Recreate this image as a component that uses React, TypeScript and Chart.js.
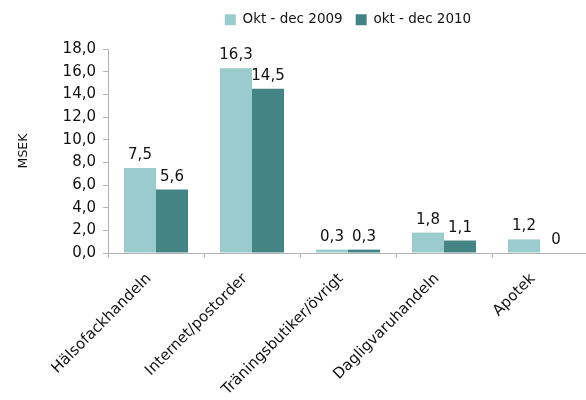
import React, { useEffect, useRef } from "react";
import { Chart, registerables } from "chart.js";

Chart.register(...registerables);

const categories = ["Hälsofackhandeln", "Internet/postorder", "Träningsbutiker/övrigt", "Dagligvaruhandeln", "Apotek"];
const series2009 = [7.5, 16.3, 0.3, 1.8, 1.2];
const series2010 = [5.6, 14.5, 0.3, 1.1, 0];
const seriesNames = ["Okt - dec 2009", "okt - dec 2010"];
const yTitle = "MSEK";

const FONT = "'DejaVu Sans', Verdana, sans-serif";

const fmt = (v: number) => (v === 0 ? "0" : v.toFixed(1).replace(".", ","));

const legendTweaks = {
  id: "legendTweaks",
  beforeLayout(chart: any) {
    const lg = chart.legend;
    if (lg && !lg._patched) {
      const orig = lg.fit.bind(lg);
      lg.fit = function () {
        orig();
        this.height = 49;
      };
      lg._patched = true;
    }
  },
  afterLayout(chart: any) {
    if (chart.legend) {
      chart.legend.left = chart.chartArea.left;
      chart.legend.right = chart.chartArea.right;
    }
  },
};

const valueLabels = {
  id: "valueLabels",
  afterDatasetsDraw(chart: any) {
    const ctx = chart.ctx;
    ctx.save();
    ctx.font = `15px ${FONT}`;
    ctx.fillStyle = "#111";
    ctx.textAlign = "center";
    ctx.textBaseline = "alphabetic";
    chart.data.datasets.forEach((ds: any, i: number) => {
      const meta = chart.getDatasetMeta(i);
      meta.data.forEach((el: any, j: number) => {
        ctx.fillText(fmt(ds.data[j]), el.x, el.y - 9);
      });
    });
    ctx.restore();
  },
};

export default function App() {
  const ref = useRef<HTMLCanvasElement>(null);
  useEffect(() => {
    if (!ref.current) return;
    const chart = new Chart(ref.current, {
      type: "bar",
      data: {
        labels: categories,
        datasets: [
          { label: seriesNames[0], data: series2009, backgroundColor: "#9acccd" },
          { label: seriesNames[1], data: series2010, backgroundColor: "#448485" },
        ],
      },
      options: {
        animation: false,
        responsive: true,
        maintainAspectRatio: false,
        layout: { padding: { top: 0, left: 0, right: 12, bottom: 0 } },
        datasets: { bar: { barPercentage: 1, categoryPercentage: 2 / 3 } },
        plugins: {
          legend: {
            position: "top",
            labels: {
              boxWidth: 11,
              boxHeight: 11,
              padding: 13,
              color: "#111",
              font: { family: FONT, size: 13.5 },
            },
          },
          tooltip: { enabled: false },
        },
        scales: {
          x: {
            grid: { display: true, drawOnChartArea: false, offset: true, tickLength: 5, color: "#b3b3b3" },
            border: { color: "#b3b3b3" },
            ticks: {
              color: "#111",
              font: { family: FONT, size: 15 },
              minRotation: 45,
              maxRotation: 45,
              autoSkip: false,
              padding: 12,
              labelOffset: -7,
            },
            afterFit(scale: any) {
              scale.height = 147;
            },
          },
          y: {
            min: 0,
            max: 18,
            grid: { display: true, drawOnChartArea: false, tickLength: 5, color: "#b3b3b3" },
            border: { color: "#b3b3b3" },
            ticks: {
              stepSize: 2,
              padding: 7,
              color: "#111",
              font: { family: FONT, size: 15 },
              callback: (v: any) => Number(v).toFixed(1).replace(".", ","),
            },
            title: {
              display: true,
              text: yTitle,
              color: "#111",
              font: { family: FONT, size: 12.5 },
              padding: { top: 16, bottom: 4 },
            },
            afterFit(scale: any) {
              scale.width = 108;
            },
          },
        },
      },
      plugins: [legendTweaks, valueLabels],
    });
    return () => chart.destroy();
  }, []);
  return (
    <div style={{ position: "fixed", left: 0, top: 0, width: 586, height: 400, overflow: "hidden", background: "#fff" }}>
      <div style={{ position: "relative", width: 600, height: 400 }}>
        <canvas ref={ref} />
      </div>
    </div>
  );
}
